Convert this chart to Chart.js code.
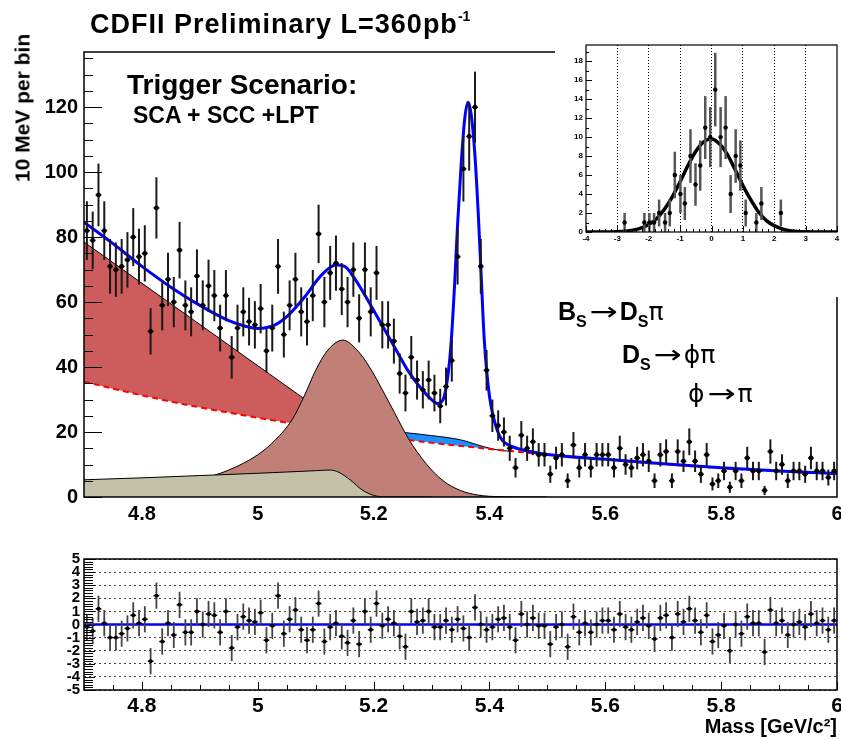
<!DOCTYPE html>
<html>
<head>
<meta charset="utf-8">
<script src="https://cdn.jsdelivr.net/npm/chart.js"></script>
<style>
  body { margin: 0; background: #fff; width: 841px; height: 739px; overflow: hidden; position: relative;
         font-family: "Liberation Sans", Arial, sans-serif; }
  canvas { position: absolute; }
  .t { position: absolute; font-weight: bold; white-space: nowrap; color: #000; line-height: 1; }
  .sub { font-size: 16px; position: relative; top: 7px; }
  .ar { font-family: "DejaVu Sans", sans-serif; font-weight: normal; display: inline-block; transform: scaleX(1.35); margin: 0 6px; }
  .gr { font-family: "DejaVu Sans", sans-serif; font-weight: normal; }
</style>
</head>
<body>
<canvas id="main" width="841" height="530" style="left:0;top:0"></canvas>
<canvas id="inset" width="286" height="259" style="left:555px;top:38px;background:#fff"></canvas>
<canvas id="pull" width="841" height="199" style="left:0;top:540px"></canvas>

<div class="t" style="left:90px;top:11px;font-size:27px;letter-spacing:1px">CDFII Preliminary L=360pb<span style="font-size:14px;position:relative;top:-12px;letter-spacing:0">-1</span></div>
<div class="t" style="left:22px;top:108px;font-size:21px;transform:translate(-50%,-50%) rotate(-90deg)">10 MeV per bin</div>
<div class="t" style="left:127px;top:71px;font-size:28px">Trigger Scenario:</div>
<div class="t" style="left:133px;top:104px;font-size:23px">SCA + SCC +LPT</div>
<div class="t" style="left:558px;top:299px;font-size:25px">B<span class="sub">S</span><span class="ar">→</span>D<span class="sub">S</span><span class="gr">π</span></div>
<div class="t" style="left:622px;top:342px;font-size:25px">D<span class="sub">S</span><span class="ar">→</span><span class="gr">ϕπ</span></div>
<div class="t" style="left:688px;top:381px;font-size:25px"><span class="gr">ϕ</span><span class="ar">→</span><span class="gr">π</span></div>

<script>
// ---- data ----
// mass histogram, 10 MeV bins starting at 4.70
const binLow = 4.70;
const binWidth = 0.01;
const counts = [
  82, 79, 93, 82, 71, 70, 71, 73, 80, 74,
  75, 51, 89, 59, 67, 60, 76, 59, 57, 68,
  59, 65, 62, 52, 62, 43, 52, 57, 54, 53,
  58, 45, 52, 71, 50, 59, 67, 57, 54, 62,
  81, 60, 69, 72, 64, 60, 70, 55, 70, 57,
  69, 53, 53, 48, 38, 32, 43, 36, 33, 36,
  32, 28, 34, 42, 74, 101, 111, 120, 71, 39,
  25, 22, 20, 15, 9, 19, 15, 17, 13, 13,
  7, 12, 13, 5, 16, 9, 13, 9, 13, 13,
  13, 9, 15, 10, 9, 12, 13, 11, 5, 13,
  14, 5, 14, 11, 17, 11, 7, 13, 4, 5,
  8, 3, 8, 5, 12, 8, 8, 2, 14, 8,
  10, 5, 8, 8, 7, 12, 8, 8, 6, 8
];

// total fit (blue)
const fitMass  = [4.70, 4.75, 4.80, 4.85, 4.90, 4.95, 4.98, 5.00, 5.03, 5.05, 5.08, 5.11, 5.135, 5.15, 5.167, 5.19,
                  5.213, 5.236, 5.259, 5.282, 5.30, 5.31, 5.32, 5.328, 5.334, 5.34, 5.345, 5.351, 5.357, 5.363,
                  5.369, 5.375, 5.381, 5.386, 5.391, 5.40, 5.41, 5.42, 5.44, 5.47, 5.50, 5.60, 5.70, 5.80, 5.90, 6.00];
const fitValue = [84.6, 78, 71, 64.6, 59, 54.3, 52.5, 51.9, 53, 55.5, 61.4, 68.3, 71.4, 71, 67.3, 60.6,
                  53.4, 46.2, 39, 33.4, 30, 28.8, 30, 37, 48, 66, 84, 102, 116, 121.5,
                  117, 105, 86, 67, 48.5, 31, 22.5, 18, 15.5, 14, 13.1, 11.6, 10.2, 9.0, 8.0, 7.2];

// combinatorial background (red dashed)
const combMass  = [4.7, 4.8, 4.9, 5.0, 5.1, 5.2, 5.3, 5.4, 5.44, 5.5, 5.6, 5.7, 5.8, 5.9, 6.0];
const combValue = [35.5, 31.3, 27.6, 24.4, 21.5, 19.0, 16.7, 14.8, 14.1, 13.0, 11.5, 10.1, 8.9, 7.9, 7.1];

// partially reconstructed background (red band top edge)
const partMass  = [4.70, 5.075, 5.20];
const partValue = [78.5, 30.9, 19.0];

// blue band top edge
const dskMass  = [5.12, 5.20, 5.25, 5.30, 5.35, 5.39, 5.42, 5.44];
const dskValue = [21.0, 20.6, 19.9, 18.9, 17.6, 15.5, 14.3, 14.1];

// brown peak
const dsstMass  = [4.70, 4.80, 4.90, 4.95, 5.00, 5.03, 5.06, 5.08, 5.10, 5.12, 5.147, 5.17, 5.193, 5.215, 5.236, 5.26, 5.29, 5.32, 5.35, 5.38, 5.42, 5.50];
const dsstValue = [1.5, 2.8, 5.5, 8.3, 13, 17.5, 24, 31, 39, 45, 48.3, 45.5, 40, 33, 26, 18, 10.4, 5, 2, 0.6, 0.1, 0];

// grey shelf
const greyMass  = [4.70, 4.80, 4.90, 5.00, 5.05, 5.10, 5.125, 5.14, 5.16, 5.18, 5.20, 5.22, 5.30];
const greyValue = [5.3, 5.9, 6.6, 7.3, 7.7, 8.1, 8.3, 7.6, 5.2, 2.2, 0.5, 0.05, 0];

const massTicks = [4.8, 5, 5.2, 5.4, 5.6, 5.8, 6];
const countTicks = [0, 20, 40, 60, 80, 100, 120];

// residuals (lower pad)
const pulls = [
  -0.2, -0.5, 1.2, 0.1, -1.0, -1.0, -0.7, -0.3, 0.7, 0.1,
  0.4, -2.8, 2.2, -1.3, 0.1, -0.8, 1.5, -0.6, -0.6, 1.0,
  0.0, 0.8, 0.7, -0.6, 1.0, -1.8, -0.2, 0.6, 0.3, 0.2,
  0.9, -1.2, -0.1, 2.2, -0.7, 0.4, 1.1, -0.4, -1.2, -0.4,
  1.6, -1.3, -0.2, 0.1, -0.9, -1.4, 0.3, -1.5, 1.0, -0.4,
  1.6, -0.1, 0.4, 0.1, -0.9, -1.7, 1.0, 0.2, 0.3, 1.0,
  -0.2, -0.2, 0.3, -0.4, 0.4, -0.3, -1.0, 1.3, 0.0, -0.4,
  -0.2, 0.4, 0.5, -0.2, -1.2, 0.8, 0.0, 0.5, -0.1, -0.1,
  -1.5, -0.2, 0.0, -1.7, 0.6, -0.6, 0.1, -0.6, 0.0, 0.3,
  0.3, -0.4, 0.8, -0.2, -0.4, 0.2, 0.5, -0.1, -1.1, 0.5,
  0.7, -1.0, 0.8, 0.2, 1.2, 0.3, -0.6, 0.7, -1.3, -0.8,
  -0.1, -2.0, 0.0, -0.7, 0.6, 0.1, 0.1, -2.1, 1.1, 0.1,
  0.3, -0.8, 0.0, 0.2, -0.2, 0.8, 0.1, 0.3, -0.4, 0.3
];
const pullErr = 1;
const pullLineMass = [4.7, 6.0];
const pullLineValue = [0, 0];
const pullTicks = [-5, -4, -3, -2, -1, 0, 1, 2, 3, 4, 5];

// inset: pull distribution
const insetX = [-2.77, -2.14, -1.98, -1.83, -1.67, -1.48, -1.33, -1.17, -0.99, -0.85, -0.67, -0.51, -0.36,
                -0.2, -0.04, 0.12, 0.29, 0.45, 0.61, 0.77, 0.92, 1.09, 1.43, 1.59, 2.21];
const insetN = [1, 1, 1, 1, 2, 1, 2, 6, 4, 3, 8, 5, 7, 11, 10, 15, 10, 11, 4, 8, 7, 2, 1, 3, 2];
const gaussX = [-4, -3.5, -3, -2.75, -2.5, -2.25, -2, -1.75, -1.5, -1.25, -1, -0.75, -0.5, -0.25, 0,
                0.25, 0.5, 0.75, 1, 1.25, 1.5, 1.75, 2, 2.25, 2.5, 2.75, 3, 3.5, 4];
const gaussY = [0, 0, 0.03, 0.09, 0.2, 0.4, 0.78, 1.4, 2.4, 3.7, 5.3, 7.0, 8.5, 9.5, 9.8,
                9.3, 8.2, 6.6, 4.9, 3.4, 2.1, 1.2, 0.67, 0.33, 0.14, 0.05, 0.02, 0, 0];
const insetXTicks = [-4, -3, -2, -1, 0, 1, 2, 3, 4];
const insetYTicks = [0, 2, 4, 6, 8, 10, 12, 14, 16, 18];

// ---- helpers ----
const zip = (xs, ys) => xs.map((x, i) => ({ x: x, y: ys[i] }));
const bins = vals => vals.map((v, i) => ({ x: binLow + binWidth * (i + 0.5), y: v }));

Chart.defaults.font.family = "'Liberation Sans', Arial, sans-serif";
Chart.defaults.color = '#000';

const errorBars = {
  id: 'errorBars',
  beforeDatasetDraw(chart, args) {
    const ds = chart.data.datasets[args.index];
    if (!ds.yErr) return;
    const xs = chart.scales.x, ys = chart.scales.y, a = chart.chartArea, ctx = chart.ctx;
    ctx.save();
    ctx.beginPath();
    ctx.rect(a.left, a.top, a.right - a.left, a.bottom - a.top);
    ctx.clip();
    ds.data.forEach((p, i) => {
      const px = xs.getPixelForValue(p.x), py = ys.getPixelForValue(p.y);
      ctx.strokeStyle = ds.errColor;
      ctx.lineWidth = ds.errWidth;
      ctx.beginPath();
      ctx.moveTo(px, ys.getPixelForValue(p.y - ds.yErr[i]));
      ctx.lineTo(px, ys.getPixelForValue(p.y + ds.yErr[i]));
      ctx.stroke();
      ctx.strokeStyle = '#000';
      ctx.lineWidth = 1.5;
      ctx.beginPath();
      ctx.moveTo(xs.getPixelForValue(p.x - ds.xHalf), py);
      ctx.lineTo(xs.getPixelForValue(p.x + ds.xHalf), py);
      ctx.stroke();
    });
    ctx.restore();
  }
};

// ROOT style ticks inside the frame, plus the frame itself
function innerTicks(spec) {
  return {
    id: 'innerTicks',
    afterDatasetsDraw(chart) {
      const ctx = chart.ctx, a = chart.chartArea;
      ctx.save();
      ctx.strokeStyle = '#000';
      ctx.lineWidth = 1;
      ctx.beginPath();
      (spec.x || []).forEach(([step, len]) => {
        const sc = chart.scales.x;
        for (let k = Math.ceil(sc.min / step - 1e-6); k * step <= sc.max + 1e-9; k++) {
          const px = Math.round(sc.getPixelForValue(k * step)) + 0.5;
          ctx.moveTo(px, a.bottom);
          ctx.lineTo(px, a.bottom - len);
        }
      });
      (spec.y || []).forEach(([step, len]) => {
        const sc = chart.scales.y;
        for (let k = Math.ceil(sc.min / step - 1e-6); k * step <= sc.max + 1e-9; k++) {
          const py = Math.round(sc.getPixelForValue(k * step)) + 0.5;
          ctx.moveTo(a.left, py);
          ctx.lineTo(a.left + len, py);
        }
      });
      ctx.stroke();
      ctx.lineWidth = spec.frame;
      ctx.strokeRect(a.left, a.top, a.right - a.left, a.bottom - a.top);
      ctx.restore();
    }
  };
}

const boldFont = size => ({ size: size, weight: 'bold' });
const fixTicks = list => scale => { scale.ticks = list.map(v => ({ value: v })); };
const fixX = h => s => { s.height = h; s.paddingLeft = 0; s.paddingRight = 0; };
const fixY = w => s => { s.width = w; s.paddingTop = 0; s.paddingBottom = 0; };
const noAnim = { responsive: false, animation: false, events: [] };

// ---- main mass plot ----
new Chart(document.getElementById('main'), {
  type: 'line',
  data: {
    datasets: [
      { label: 'data', data: bins(counts), showLine: false, order: 0,
        pointRadius: 2.4, pointBackgroundColor: '#000', pointBorderWidth: 0,
        yErr: counts.map(Math.sqrt), errColor: '#1a1a1a', errWidth: 2, xHalf: binWidth / 2 },
      { label: 'fit', data: zip(fitMass, fitValue), order: 1, borderColor: '#0000ff', borderWidth: 3,
        pointRadius: 0, cubicInterpolationMode: 'monotone', fill: false },
      { label: 'grey', data: zip(greyMass, greyValue), order: 2, borderColor: '#000', borderWidth: 1,
        backgroundColor: '#c3c2a8', pointRadius: 0, cubicInterpolationMode: 'monotone', fill: 'origin' },
      { label: 'brown', data: zip(dsstMass, dsstValue), order: 3, borderColor: '#000', borderWidth: 1,
        backgroundColor: '#c08078', pointRadius: 0, cubicInterpolationMode: 'monotone', fill: 'origin' },
      { label: 'comb', data: zip(combMass, combValue), order: 4, borderColor: '#ff0000', borderWidth: 2,
        borderDash: [6, 4], pointRadius: 0, cubicInterpolationMode: 'monotone', fill: false },
      { label: 'blue band', data: zip(dskMass, dskValue), order: 5, borderColor: '#000', borderWidth: 1,
        backgroundColor: '#1e8fff', pointRadius: 0, cubicInterpolationMode: 'monotone', fill: 4 },
      { label: 'red band', data: zip(partMass, partValue), order: 6, borderColor: '#000', borderWidth: 1,
        backgroundColor: '#cd5c5c', pointRadius: 0, tension: 0, fill: 4 }
    ]
  },
  options: Object.assign({}, noAnim, {
    layout: { padding: { top: 52, right: 4, left: 0, bottom: 0 } },
    plugins: { legend: { display: false }, tooltip: { enabled: false } },
    scales: {
      x: { type: 'linear', min: 4.7, max: 6.0,
           grid: { display: false, drawTicks: false }, border: { display: false },
           ticks: { font: boldFont(20), padding: 5, autoSkip: false, maxRotation: 0, callback: v => String(v) },
           afterBuildTicks: fixTicks(massTicks), afterFit: fixX(33) },
      y: { type: 'linear', min: 0, max: 137,
           grid: { display: false, drawTicks: false }, border: { display: false },
           ticks: { font: boldFont(20), padding: 6, autoSkip: false, callback: v => String(v) },
           afterBuildTicks: fixTicks(countTicks), afterFit: fixY(84) }
    }
  }),
  plugins: [errorBars, innerTicks({ y: [[5, 9], [20, 18]], frame: 1.5 })]
});

// ---- inset: pull distribution ----
new Chart(document.getElementById('inset'), {
  type: 'line',
  data: {
    datasets: [
      { label: 'pulls', data: zip(insetX, insetN), showLine: false, order: 0,
        pointRadius: 2.2, pointBackgroundColor: '#000', pointBorderWidth: 0,
        yErr: insetN.map(Math.sqrt), errColor: '#555', errWidth: 2.5, xHalf: 0.05 },
      { label: 'gauss', data: zip(gaussX, gaussY), order: 1, borderColor: '#000', borderWidth: 3.5,
        pointRadius: 0, cubicInterpolationMode: 'monotone', fill: false }
    ]
  },
  options: Object.assign({}, noAnim, {
    layout: { padding: { top: 7, right: 1, left: 0, bottom: 53 } },
    plugins: { legend: { display: false }, tooltip: { enabled: false } },
    scales: {
      x: { type: 'linear', min: -4, max: 4,
           grid: { display: true, drawTicks: false, lineWidth: 1,
                   color: c => (c.tick && Math.abs(c.tick.value) === 4) ? 'rgba(0,0,0,0)' : '#000' },
           border: { display: false, dash: [1, 2] },
           ticks: { font: boldFont(8), padding: 2, autoSkip: false, maxRotation: 0, callback: v => String(v) },
           afterBuildTicks: fixTicks(insetXTicks), afterFit: fixX(12) },
      y: { type: 'linear', min: 0, max: 19.7,
           grid: { display: false, drawTicks: false }, border: { display: false },
           ticks: { font: boldFont(8), padding: 3, autoSkip: false, callback: v => String(v) },
           afterBuildTicks: fixTicks(insetYTicks), afterFit: fixY(31) }
    }
  }),
  plugins: [errorBars, innerTicks({ x: [[0.2, 3], [1, 6]], y: [[1, 3], [2, 6]], frame: 1.2 })]
});

// ---- residual pad ----
new Chart(document.getElementById('pull'), {
  type: 'line',
  data: {
    datasets: [
      { label: 'residuals', data: bins(pulls), showLine: false, order: 0,
        pointRadius: 2, pointBackgroundColor: '#000', pointBorderWidth: 0,
        yErr: pulls.map(() => pullErr), errColor: '#444', errWidth: 1.8, xHalf: binWidth / 2 },
      { label: 'zero', data: zip(pullLineMass, pullLineValue), order: 1, borderColor: '#0000ff',
        borderWidth: 2.5, pointRadius: 0, fill: false }
    ]
  },
  options: Object.assign({}, noAnim, {
    layout: { padding: { top: 19, right: 3, left: 0, bottom: 0 } },
    plugins: { legend: { display: false }, tooltip: { enabled: false } },
    scales: {
      x: { type: 'linear', min: 4.7, max: 6.0,
           grid: { display: false, drawTicks: false }, border: { display: false },
           ticks: { font: boldFont(21), padding: 4, autoSkip: false, maxRotation: 0, callback: v => String(v) },
           title: { display: true, text: 'Mass [GeV/c²]', align: 'end', font: boldFont(20), padding: { top: 0, bottom: 0 } },
           afterBuildTicks: fixTicks(massTicks), afterFit: fixX(49) },
      y: { type: 'linear', min: -5, max: 5,
           grid: { display: true, drawTicks: false, color: '#444', lineWidth: 1 },
           border: { display: false, dash: [2, 3] },
           ticks: { font: boldFont(15), padding: 4, autoSkip: false, callback: v => String(v) },
           afterBuildTicks: fixTicks(pullTicks), afterFit: fixY(84) }
    }
  }),
  plugins: [errorBars, innerTicks({ x: [[0.05, 5], [0.2, 8]], y: [[0.2, 9], [1, 11]], frame: 1.5 })]
});
</script>
</body>
</html>
